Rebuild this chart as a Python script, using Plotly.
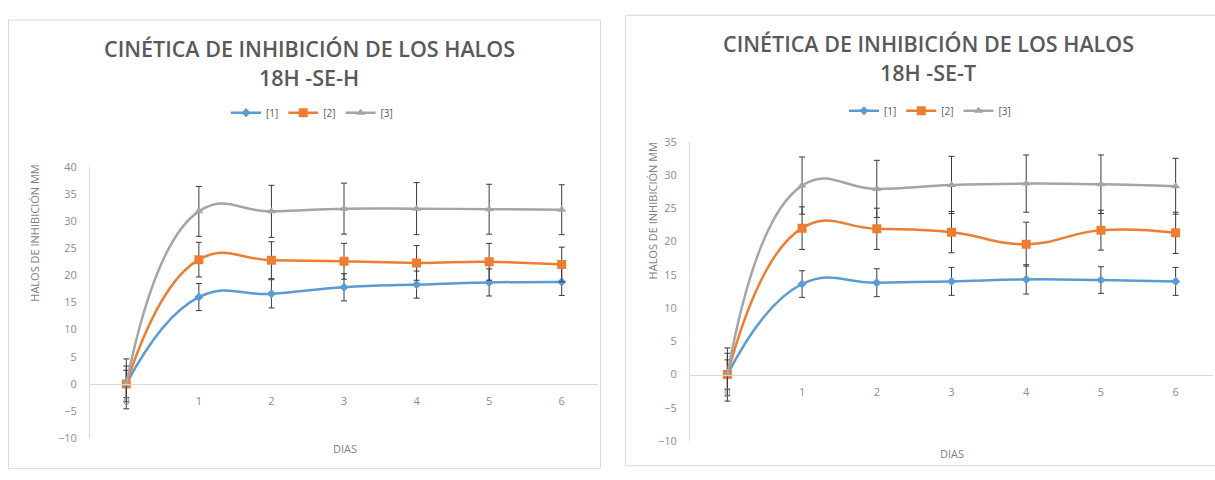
import plotly.graph_objects as go

# ---- data -------------------------------------------------------------
days = [0, 1, 2, 3, 4, 5, 6]
day_labels = ["0", "1", "2", "3", "4", "5", "6"]
series_names = ["[1]", "[2]", "[3]"]

# 18H -SE-H
seh_1 = [0, 16.0, 16.6, 17.8, 18.3, 18.7, 18.8]
seh_1_err = [2.5, 2.5, 2.6, 2.5, 2.5, 2.5, 2.5]
seh_2 = [0, 22.9, 22.8, 22.6, 22.3, 22.5, 22.0]
seh_2_err = [3.3, 3.2, 3.4, 3.3, 3.2, 3.4, 3.2]
seh_3 = [0, 31.8, 31.8, 32.3, 32.3, 32.2, 32.1]
seh_3_err = [4.6, 4.6, 4.8, 4.7, 4.8, 4.6, 4.6]

# 18H -SE-T
set_1 = [0, 13.6, 13.8, 14.0, 14.3, 14.2, 14.0]
set_1_err = [2.2, 2.0, 2.1, 2.1, 2.2, 2.0, 2.1]
set_2 = [0, 22.0, 21.9, 21.4, 19.6, 21.7, 21.3]
set_2_err = [3.2, 3.2, 3.1, 3.1, 3.3, 3.0, 3.1]
set_3 = [0, 28.4, 27.9, 28.5, 28.7, 28.6, 28.3]
set_3_err = [4.0, 4.3, 4.3, 4.3, 4.3, 4.4, 4.2]

# ---- styling ----------------------------------------------------------
W, H = 1215, 480
COLORS = ["#5B9BD5", "#ED7D31", "#A5A5A5"]
SYMBOLS = ["diamond", "square", "triangle-up"]
SIZES = [7, 9, 8]
TEXT = "#595959"
AXIS = "#D9D9D9"
FONT = "Open Sans"


def fx(p):
    return p / W


def fy(p):
    return 1 - p / H


fig = go.Figure()


def add_series(values, errors, idx, xa, ya, legend):
    fig.add_trace(go.Scatter(
        x=days, y=values, name=series_names[idx],
        mode="lines+markers",
        line=dict(color=COLORS[idx], width=2.5, shape="spline", smoothing=1.3),
        marker=dict(symbol=SYMBOLS[idx], size=SIZES[idx], color=COLORS[idx]),
        error_y=dict(type="data", array=errors, visible=True,
                     color="#3A3A3A", thickness=1, width=3),
        xaxis=xa, yaxis=ya, legend=legend,
    ))


for i, (v, e) in enumerate([(seh_1, seh_1_err), (seh_2, seh_2_err), (seh_3, seh_3_err)]):
    add_series(v, e, i, "x", "y", "legend")
for i, (v, e) in enumerate([(set_1, set_1_err), (set_2, set_2_err), (set_3, set_3_err)]):
    add_series(v, e, i, "x2", "y2", "legend2")

# plotting areas (pixel boxes converted to paper fractions)
left_x = [fx(90), fx(598)]
left_y = [fy(444), fy(164)]
left_range = [-10, 40]
right_x = [fx(690), fx(1213)]
right_y = [fy(447), fy(138)]
right_range = [-10, 35]


def zero_pos(dom, rng):
    return dom[0] + (0 - rng[0]) / (rng[1] - rng[0]) * (dom[1] - dom[0])


tick_font = dict(family=FONT, size=11, color="#8C8C8C")


def x_axis(dom, ydom, yrng):
    return dict(domain=dom, range=[-0.5, 6.5], anchor="free",
                position=zero_pos(ydom, yrng), showline=True, linecolor=AXIS,
                linewidth=1, tickmode="array", tickvals=days, ticktext=day_labels,
                ticks="", showgrid=False, zeroline=False, tickfont=tick_font,
                ticklabelstandoff=7, fixedrange=True)


def y_axis(dom, rng, anchor):
    return dict(domain=dom, range=rng, dtick=5, tick0=0, anchor=anchor,
                showline=True, linecolor=AXIS, linewidth=1, ticks="",
                showgrid=False, zeroline=False, tickfont=tick_font,
                ticklabelstandoff=10, fixedrange=True)


legend_style = dict(orientation="h", xanchor="center", yanchor="middle",
                    font=dict(family=FONT, size=10, color=TEXT),
                    bgcolor="rgba(0,0,0,0)", itemwidth=30, tracegroupgap=0)

fig.update_layout(
    width=W, height=H,
    margin=dict(l=0, r=0, t=0, b=0),
    paper_bgcolor="white", plot_bgcolor="white",
    xaxis=x_axis(left_x, left_y, left_range),
    yaxis=y_axis(left_y, left_range, "x"),
    xaxis2=x_axis(right_x, right_y, right_range),
    yaxis2=y_axis(right_y, right_range, "x2"),
    legend=dict(legend_style, x=fx(312), y=fy(108)),
    legend2=dict(legend_style, x=fx(930), y=fy(106)),
    showlegend=True,
)

# chart frames
fig.add_shape(type="rect", xref="paper", yref="paper",
              x0=fx(8.5), x1=fx(600.5), y0=fy(475.5), y1=fy(12.5),
              line=dict(color=AXIS, width=1), layer="below")
fig.add_shape(type="rect", xref="paper", yref="paper",
              x0=fx(625.5), x1=fx(1216), y0=fy(472.5), y1=fy(7.5),
              line=dict(color=AXIS, width=1), layer="below")

title_font = dict(family=FONT, size=21.5, color=TEXT, weight=600)
label_font = dict(family=FONT, size=11, color="#7F7F7F")


def text(x, y, s, font, angle=0):
    fig.add_annotation(x=fx(x), y=fy(y), xref="paper", yref="paper", text=s,
                       showarrow=False, xanchor="center", yanchor="middle",
                       font=font, textangle=angle)


# titles
text(309, 42, "CINÉTICA DE INHIBICIÓN DE LOS HALOS", title_font)
text(309, 72, "18H -SE-H", title_font)
text(928, 37, "CINÉTICA DE INHIBICIÓN DE LOS HALOS", title_font)
text(928, 67, "18H -SE-T", title_font)

# axis titles
text(35, 233, "HALOS DE INHIBICIÓN MM", label_font, -90)
text(652, 210, "HALOS DE INHIBICIÓN MM", label_font, -90)
text(345, 455, "DIAS", label_font)
text(952, 460, "DIAS", label_font)

fig.write_html("out.html")
